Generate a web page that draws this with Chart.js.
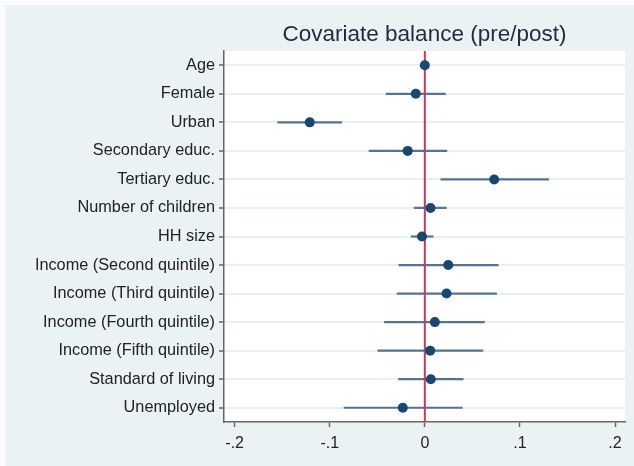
<!DOCTYPE html>
<html>
<head>
<meta charset="utf-8">
<script src="https://cdn.jsdelivr.net/npm/chart.js@4.4.1/dist/chart.umd.min.js"></script>
<style>
  html, body { margin: 0; padding: 0; background: #fbfbfb; }
  #wrap { width: 634px; height: 466px; }
</style>
</head>
<body>
<div id="wrap"><canvas id="c" width="634" height="466"></canvas></div>
<script>
// Covariates, point estimates and 95% confidence bounds
const categories = [
  "Age", "Female", "Urban", "Secondary educ.", "Tertiary educ.",
  "Number of children", "HH size", "Income (Second quintile)",
  "Income (Third quintile)", "Income (Fourth quintile)",
  "Income (Fifth quintile)", "Standard of living", "Unemployed"
];
const estimates = [0.000, -0.0095, -0.121, -0.018, 0.073, 0.006, -0.003, 0.0246, 0.0228, 0.0105, 0.0056, 0.0063, -0.0232];
const ciLow     = [-0.001, -0.041, -0.155, -0.059, 0.0165, -0.0116, -0.0147, -0.0277, -0.0295, -0.0428, -0.0498, -0.028, -0.0853];
const ciHigh    = [0.001, 0.022, -0.087, 0.0235, 0.1305, 0.023, 0.0091, 0.0775, 0.0758, 0.063, 0.0614, 0.0407, 0.0397];
const xTicks    = [-0.2, -0.1, 0, 0.1, 0.2];
const titleText = "Covariate balance (pre/post)";

const FONT = "'Liberation Sans', Arial, sans-serif";

function fmtTick(v) {
  if (v === 0) return "0";
  const s = String(Math.abs(v)).replace(/^0/, "");
  return (v < 0 ? "-" : "") + s;
}

// Panel backgrounds, confidence intervals and the zero reference line
const decor = {
  id: "decor",
  beforeDraw(chart) {
    const { ctx, chartArea: a, width, height } = chart;
    ctx.save();
    ctx.fillStyle = "#fbfbfb";
    ctx.fillRect(0, 0, width, height);
    ctx.fillStyle = "#eaf2f3";
    ctx.fillRect(5, 5, width - 5, height - 5);
    ctx.fillStyle = "#ffffff";
    ctx.fillRect(a.left, a.top, a.right - a.left, a.bottom - a.top);
    ctx.restore();
  },
  beforeDatasetsDraw(chart) {
    const { ctx, chartArea: a, scales: { x, y } } = chart;
    ctx.save();
    ctx.strokeStyle = "#56748f";
    ctx.lineWidth = 2.2;
    categories.forEach((c, i) => {
      const py = y.getPixelForValue(i);
      ctx.beginPath();
      ctx.moveTo(x.getPixelForValue(ciLow[i]), py);
      ctx.lineTo(x.getPixelForValue(ciHigh[i]), py);
      ctx.stroke();
    });
    const zx = x.getPixelForValue(0);
    ctx.strokeStyle = "#cc3a55";
    ctx.lineWidth = 2;
    ctx.beginPath();
    ctx.moveTo(zx, a.top);
    ctx.lineTo(zx, a.bottom);
    ctx.stroke();
    ctx.restore();
  }
};

new Chart(document.getElementById("c"), {
  type: "scatter",
  data: {
    datasets: [{
      data: categories.map((c, i) => ({ x: estimates[i], y: c })),
      backgroundColor: "#1a476f",
      borderColor: "#1a476f",
      pointRadius: 5,
      pointHoverRadius: 5,
      borderWidth: 0
    }]
  },
  options: {
    responsive: false,
    animation: false,
    events: [],
    layout: { padding: { left: 0, right: 9, top: 0, bottom: 0 } },
    plugins: {
      legend: { display: false },
      tooltip: { enabled: false },
      title: {
        display: true,
        text: titleText,
        fullSize: false,
        color: "#1e2c40",
        font: { family: FONT, size: 22.5, weight: "normal", lineHeight: 1.2 },
        padding: { top: 21, bottom: 3 }
      }
    },
    scales: {
      x: {
        type: "linear",
        min: -0.2112,
        max: 0.2105,
        afterBuildTicks(scale) { scale.ticks = xTicks.map(v => ({ value: v })); },
        afterFit(scale) { scale.height = 44; },
        grid: { drawOnChartArea: false, drawTicks: true, tickLength: 5, tickColor: "#666", tickWidth: 1.5 },
        border: { display: true, color: "#666", width: 1.5 },
        ticks: {
          callback: v => fmtTick(v),
          color: "#222",
          font: { family: FONT, size: 16 },
          padding: 7,
          maxRotation: 0,
          autoSkip: false
        }
      },
      y: {
        type: "category",
        labels: categories,
        offset: true,
        afterFit(scale) { scale.width = 224; },
        grid: { color: "#e9f0f3", lineWidth: 2, drawTicks: true, tickLength: 5, tickColor: "#666", tickWidth: 1.5 },
        border: { display: true, color: "#666", width: 1.5 },
        ticks: {
          color: "#222",
          font: { family: FONT, size: 16.3 },
          padding: 4,
          autoSkip: false
        }
      }
    }
  },
  plugins: [decor]
});
</script>
</body>
</html>
